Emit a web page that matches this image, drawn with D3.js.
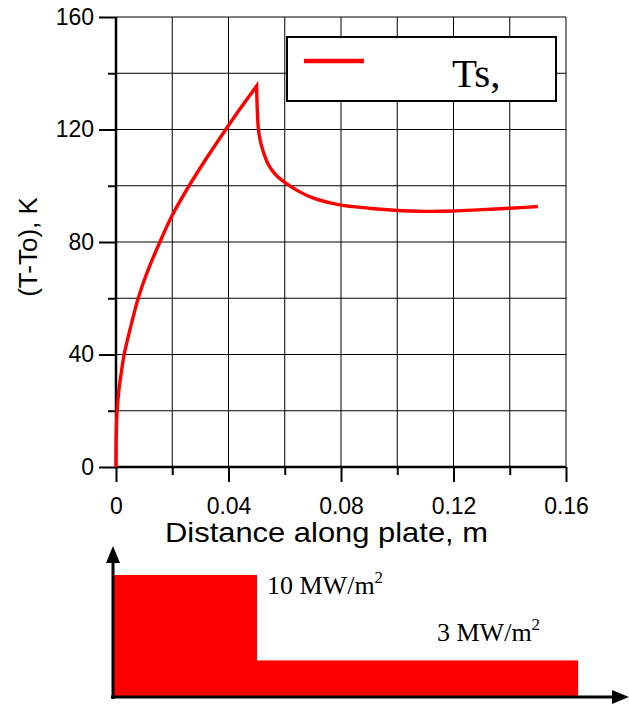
<!DOCTYPE html>
<html><head><meta charset="utf-8">
<script src="https://cdn.jsdelivr.net/npm/d3@7"></script>
<style>body{margin:0;background:#fff}svg{display:block}</style>
</head><body><svg id="c" width="629" height="710"></svg>
<script>
const xDist = [0,0.0001,0.0004,0.001,0.0018,0.0029,0.005,0.0079,0.011,0.0156,0.02,0.026,0.032,0.038,0.044,0.05,0.0501,0.0503,0.0506,0.0513,0.0524,0.0538,0.0554,0.0575,0.06,0.065,0.0702,0.0796,0.09,0.10,0.11,0.12,0.13,0.14,0.15];
const tsVals = [0,12,20,27,33,40,49,60,69,80,89.5,100,109.5,118.5,127.2,135.5,131,125.5,120.5,116,112,108.3,105.6,103.2,101.2,98,95.6,93.2,92,91.2,90.9,91.0,91.5,92.0,92.6];
const xTicks = [0,0.04,0.08,0.12,0.16];
const xMinor = [0.02,0.06,0.10,0.14];
const yTicks = [0,40,80,120,160];
const yMinor = [20,60,100,140];
const fluxStart = [0,0.05];
const fluxEnd = [0.05,0.1615];
const fluxVal = [10,3];
const fluxLabels = ["10 MW/m","3 MW/m"];
const seriesName = "Ts,";

const svg = d3.select("#c");
const x = d3.scaleLinear().domain([0,0.16]).range([116,566]);
const y = d3.scaleLinear().domain([0,160]).range([467,17]);
const font = "Arial, 'Liberation Sans', sans-serif";
const serif = "'Liberation Serif','Times New Roman',serif";

// grid
const g = svg.append("g");
g.selectAll(".vg").data(xTicks.concat(xMinor)).join("line")
  .attr("x1",d=>x(d)).attr("x2",d=>x(d)).attr("y1",y(0)).attr("y2",y(160))
  .attr("stroke","#000").attr("stroke-width",1);
g.selectAll(".hg").data(yTicks.concat(yMinor)).join("line")
  .attr("x1",x(0)).attr("x2",x(0.16)).attr("y1",d=>y(d)).attr("y2",d=>y(d))
  .attr("stroke","#000").attr("stroke-width",1);

// axes
const ya = svg.append("g").attr("transform",`translate(${x(0)},0)`)
  .call(d3.axisLeft(y).tickValues(yTicks).tickSize(17).tickPadding(5).tickFormat(d3.format("d")));
ya.append("g").call(d3.axisLeft(y).tickValues(yMinor).tickSize(8).tickFormat(""));
const xa = svg.append("g").attr("transform",`translate(0,${y(0)})`)
  .call(d3.axisBottom(x).tickValues(xTicks).tickSize(15).tickPadding(16).tickFormat(d=>d===0?"0":d3.format(".2f")(d)));
xa.append("g").call(d3.axisBottom(x).tickValues(xMinor).tickSize(8).tickFormat(""));
svg.selectAll(".domain").remove();
svg.selectAll(".tick line").attr("stroke","#000").attr("stroke-width",2);
svg.selectAll(".tick text").attr("font-family",font).attr("font-size",23).attr("fill","#000");
svg.append("line").attr("x1",x(0)).attr("x2",x(0)).attr("y1",y(0)+1).attr("y2",y(160)).attr("stroke","#000").attr("stroke-width",2.5);
svg.append("line").attr("x1",x(0)-1).attr("x2",x(0.16)).attr("y1",y(0)).attr("y2",y(0)).attr("stroke","#000").attr("stroke-width",2.5);

// curve (split at the peak so the cusp stays sharp)
const pts = xDist.map((d,i)=>[d,tsVals[i]]);
const pk = d3.maxIndex(tsVals);
const line = d3.line().x(d=>x(d[0])).y(d=>y(d[1])).curve(d3.curveCatmullRom.alpha(0.5));
svg.append("path").attr("d",line(pts.slice(0,pk+1))+line(pts.slice(pk)).replace(/^M/,"L"))
  .attr("fill","none").attr("stroke","#ff0000").attr("stroke-width",3.4).attr("stroke-linejoin","miter");

// legend
svg.append("rect").attr("x",287).attr("y",37).attr("width",269).attr("height",64)
  .attr("fill","#fff").attr("stroke","#000").attr("stroke-width",2);
svg.append("line").attr("x1",304).attr("x2",364).attr("y1",61).attr("y2",61).attr("stroke","#ff0000").attr("stroke-width",4.5);
svg.append("text").attr("x",452).attr("y",87).attr("font-family",serif)
  .attr("font-size",41).text(seriesName);

// axis titles
svg.append("text").attr("transform","translate(37,247) rotate(-90)").attr("text-anchor","middle")
  .attr("font-family",font).attr("font-size",26).text("(T-To), K");
svg.append("text").attr("x",165).attr("y",542)
  .attr("font-family",font).attr("font-size",28).attr("textLength",323).attr("lengthAdjust","spacingAndGlyphs")
  .text("Distance along plate, m");

// heat flux diagram
const xq = d3.scaleLinear().domain([0,0.05]).range([113,257]);
const yq = d3.scaleLinear().domain([0,10]).range([697,575]);
svg.selectAll(".flux").data(fluxVal).join("rect")
  .attr("x",(d,i)=>xq(fluxStart[i])).attr("width",(d,i)=>xq(fluxEnd[i])-xq(fluxStart[i]))
  .attr("y",d=>yq(d)).attr("height",d=>yq(0)-yq(d)).attr("fill","#ff0000");
svg.append("line").attr("x1",113).attr("x2",113).attr("y1",562).attr("y2",699).attr("stroke","#000").attr("stroke-width",3);
svg.append("line").attr("x1",111).attr("x2",615).attr("y1",697).attr("y2",697).attr("stroke","#000").attr("stroke-width",3);
svg.append("path").attr("d","M113,546 L106,563 L120,563 Z").attr("fill","#000");
svg.append("path").attr("d","M629,697 L612,690 L612,704 Z").attr("fill","#000");
const lblPos = [[267,594],[437,641]];
fluxLabels.forEach((t,i)=>{
  const tx = svg.append("text").attr("x",lblPos[i][0]).attr("y",lblPos[i][1])
    .attr("font-family",serif).attr("font-size",26).text(t);
  tx.append("tspan").attr("dy",-11).attr("font-size",17).text("2");
});
</script></body></html>
